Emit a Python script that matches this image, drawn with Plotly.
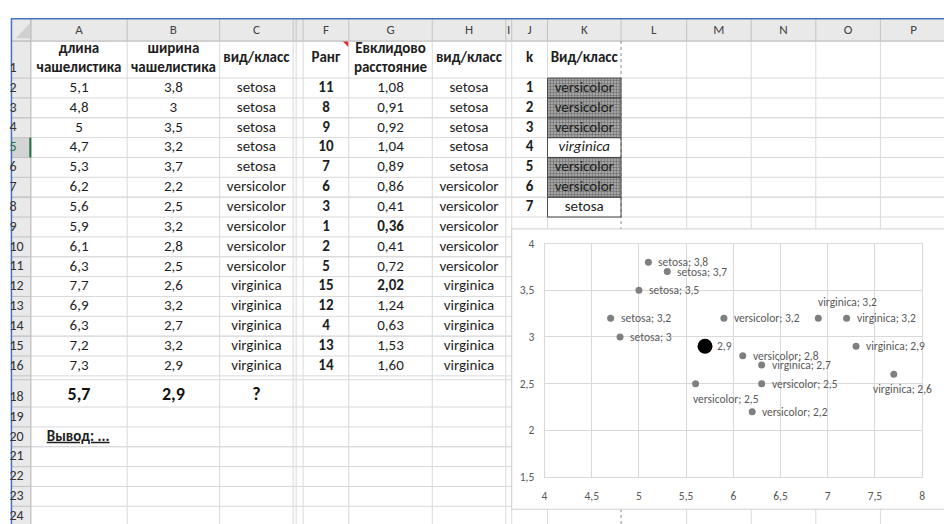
import plotly.graph_objects as go

# ------------------------------------------------------------------ data
sepal_length = [5.1, 4.8, 5.0, 4.7, 5.3, 6.2, 5.6, 5.9, 6.1, 6.3, 7.7, 6.9, 6.3, 7.2, 7.3]
sepal_width = [3.8, 3.0, 3.5, 3.2, 3.7, 2.2, 2.5, 3.2, 2.8, 2.5, 2.6, 3.2, 2.7, 3.2, 2.9]
species = ["setosa", "setosa", "setosa", "setosa", "setosa",
           "versicolor", "versicolor", "versicolor", "versicolor", "versicolor",
           "virginica", "virginica", "virginica", "virginica", "virginica"]
rank = [11, 8, 9, 10, 7, 6, 3, 1, 2, 5, 15, 12, 4, 13, 14]
distance = [1.08, 0.91, 0.92, 1.04, 0.89, 0.86, 0.41, 0.36, 0.41, 0.72, 2.02, 1.24, 0.63, 1.53, 1.60]
k_values = [1, 2, 3, 4, 5, 6, 7]
k_class = ["versicolor", "versicolor", "versicolor", "virginica", "versicolor", "versicolor", "setosa"]
query_length = 5.7
query_width = 2.9
query_class = "?"
header_texts = ["длина<br>чашелистика", "ширина<br>чашелистика", "вид/класс", "Ранг",
                "Евклидово<br>расстояние", "вид/класс", "k", "Вид/класс"]
column_letters = ["A", "B", "C", "F", "G", "H", "I", "J", "K", "L", "M", "N", "O", "P"]
row_labels = list(range(1, 17)) + list(range(18, 25))
conclusion = "Вывод: ..."
x_ticks = [4, 4.5, 5, 5.5, 6, 6.5, 7, 7.5, 8]
y_ticks = [1.5, 2, 2.5, 3, 3.5, 4]


def fmt(v, nd=None):
    s = f"{v:.{nd}f}" if nd is not None else f"{v:g}"
    return s.replace(".", ",")


# ------------------------------------------------------------------ geometry (page pixels)
W, H = 944, 524
FONT = "Carlito, Lato, 'Noto Sans', sans-serif"
CELL = 15
col_bounds = {"A": (28, 125), "B": (125, 218), "C": (218, 292), "D": (292, 295), "E": (295, 302),
              "F": (302, 348), "G": (348, 432), "H": (432, 506), "I": (506, 512), "J": (512, 548),
              "K": (548, 622), "L": (622, 688), "M": (688, 753), "N": (753, 818), "O": (818, 883),
              "P": (883, 950)}
HEAD_TOP, HEAD_BOT = 12, 35
RH = 20.4
row_bounds = {1: (35, 73)}
for r in range(2, 17):
    t = 73 + (r - 2) * RH
    row_bounds[r] = (t, t + RH)
row_bounds[18] = (383, 411)
for r in range(19, 25):
    t = 411 + (r - 19) * RH
    row_bounds[r] = (t, t + RH)

CHART_BOX = (512, 228, 960, 516)
PLOT_X = (545, 925)
PLOT_Y = (243, 483)
GRID = "#d9d9d9"
HDR_LINE = "#c3c3c3"
HDR_BG = "#e9e9e9"
label_side = {11: "above", 10: "below", 6: "below_left"}


def cx(c):
    a, b = col_bounds[c]
    return (a + b) / 2


def cy(r, off=10):
    return row_bounds[r][1] - off


def px(x):
    return x / W


def py(y):
    return 1 - y / H


shapes = []


def line(x0, y0, x1, y1, color, width=1, dash="solid"):
    shapes.append(dict(type="line", xref="paper", yref="paper", layer="below",
                       x0=px(x0), y0=py(y0), x1=px(x1), y1=py(y1),
                       line=dict(color=color, width=width, dash=dash)))


def rect(x0, y0, x1, y1, fill, lc=None, lw=0):
    shapes.append(dict(type="rect", xref="paper", yref="paper", layer="below",
                       x0=px(x0), y0=py(y0), x1=px(x1), y1=py(y1), fillcolor=fill,
                       line=dict(color=lc or fill, width=lw)))


rect(8, HEAD_TOP, W + 10, HEAD_BOT, HDR_BG)
rect(8, HEAD_BOT, 28, H + 10, HDR_BG)
rect(8, row_bounds[5][0], 28, row_bounds[5][1], "#d4d4d4")

edges_y = sorted({b for r in row_bounds for b in row_bounds[r]})
for y in edges_y:
    if y > H:
        continue
    line(28, y, W + 10, y, GRID)
    line(8, y, 28, y, HDR_LINE)
line(8, HEAD_BOT, W + 10, HEAD_BOT, "#bdbdbd")

edges_x = sorted({b for c in col_bounds for b in col_bounds[c]})
for x in edges_x:
    if x >= W:
        continue
    line(x, HEAD_TOP, x, HEAD_BOT, HDR_LINE)
    if x == 622:
        line(x, HEAD_BOT, x, H + 10, "#8a8a8a", 1, "dot")
    else:
        line(x, HEAD_BOT, x, H + 10, GRID)
line(28, HEAD_TOP, 28, H + 10, "#bdbdbd")

shapes.append(dict(type="path", xref="paper", yref="paper", layer="below",
                   path=f"M{px(27)},{py(17)} L{px(27)},{py(32)} L{px(13)},{py(32)} Z",
                   fillcolor="#cfcfcf", line=dict(width=0)))
shapes.append(dict(type="path", xref="paper", yref="paper", layer="below",
                   path=f"M{px(342)},{py(35.5)} L{px(347.5)},{py(35.5)} L{px(347.5)},{py(41)} Z",
                   fillcolor="#e0302a", line=dict(width=0)))
line(27.5, row_bounds[5][0], 27.5, row_bounds[5][1], "#217346", 2)

rect(CHART_BOX[0], CHART_BOX[1], CHART_BOX[2], CHART_BOX[3], "white", "#cfcfcf", 1)

line(8, HEAD_TOP, W + 10, HEAD_TOP, "#4472c4", 1.5)
line(8.5, HEAD_TOP, 8.5, H + 10, "#4472c4", 1.5)

fig = go.Figure()

# ------------------------------------------------------------------ chart
fig.add_trace(go.Scatter(
    x=sepal_length, y=sepal_width, mode="markers",
    marker=dict(color="#7f7f7f", size=7), cliponaxis=False, xaxis="x", yaxis="y"))
fig.add_trace(go.Scatter(
    x=[query_length], y=[query_width], mode="markers",
    marker=dict(color="black", size=15), cliponaxis=False, xaxis="x", yaxis="y"))

LBL_FONT = dict(family=FONT, size=11.5, color="#595959")
annotations = []
for i, (xv, yv, s) in enumerate(zip(sepal_length, sepal_width, species)):
    side = label_side.get(i, "right")
    a = dict(x=xv, y=yv, xref="x", yref="y", text=f"{s}; {fmt(yv)}", showarrow=False,
             font=LBL_FONT)
    if side == "right":
        a.update(xanchor="left", yanchor="middle", xshift=8)
    elif side == "above":
        a.update(xanchor="left", yanchor="bottom", xshift=-2, yshift=7)
    elif side == "below":
        a.update(xanchor="center", yanchor="top", xshift=9, yshift=-6)
    else:
        a.update(xanchor="left", yanchor="top", xshift=-5, yshift=-6)
    annotations.append(a)
annotations.append(dict(x=query_length, y=query_width, xref="x", yref="y",
                        text=fmt(query_width), showarrow=False, font=LBL_FONT,
                        xanchor="left", yanchor="middle", xshift=10))

# ------------------------------------------------------------------ sheet: patterned K cells
xs, ys = [], []
for i, c in enumerate(k_class):
    t, b = row_bounds[i + 2]
    if c == "versicolor":
        xs += [548, 622, 622, 548, 548, None]
        ys += [t, t, b, b, t, None]
fig.add_trace(go.Scatter(x=xs, y=ys, mode="lines", fill="toself", xaxis="x2", yaxis="y2",
                         fillcolor="#a8a8a8",
                         fillpattern=dict(shape=".", fgcolor="#2e2e2e", bgcolor="#b4b4b4",
                                          size=3, solidity=0.5),
                         line=dict(color="#4a4a4a", width=1), hoverinfo="skip"))
bx, by = [], []
for i, c in enumerate(k_class):
    t, b = row_bounds[i + 2]
    if c != "versicolor":
        bx += [548, 622, 622, 548, 548, None]
        by += [t, t, b, b, t, None]
fig.add_trace(go.Scatter(x=bx, y=by, mode="lines", xaxis="x2", yaxis="y2",
                         line=dict(color="#4a4a4a", width=1), hoverinfo="skip"))


# ------------------------------------------------------------------ sheet text
def add_text(x, y, t, size=CELL, color="#1e1e1e", weight="normal", style="normal",
             position="middle center", underline=False):
    fig.add_trace(go.Scatter(
        x=x, y=y, text=t, mode="text", textposition=position, xaxis="x2", yaxis="y2",
        cliponaxis=False, hoverinfo="skip",
        textfont=dict(family=FONT, size=size, color=color, weight=weight, style=style,
                      lineposition="under" if underline else "none")))


add_text([cx(c) for c in column_letters], [24] * len(column_letters), column_letters,
         size=13, color="#444444")
add_text([6.5] * len(row_labels), [cy(r) for r in row_labels],
         [str(r) for r in row_labels],
         size=14, color=["#217346" if r == 5 else "#333333" for r in row_labels],
         position="middle right")
hdr_cols = ["A", "B", "C", "F", "G", "H", "J", "K"]
add_text([cx(c) for c in hdr_cols], [53] * len(hdr_cols), header_texts, weight="bold")

data_rows = list(range(2, 17))
ax, ay, at = [], [], []
for i, r in enumerate(data_rows):
    ax += [cx("A"), cx("B"), cx("C"), cx("H")]
    ay += [cy(r)] * 4
    at += [fmt(sepal_length[i]), fmt(sepal_width[i]), species[i], species[i]]
dmin, dmax = min(distance), max(distance)
for i, r in enumerate(data_rows):
    if distance[i] not in (dmin, dmax):
        ax.append(cx("G"))
        ay.append(cy(r))
        at.append(fmt(distance[i], 2))
add_text(ax, ay, at)
bx_, by_, bt_ = [], [], []
for i, r in enumerate(data_rows):
    bx_.append(cx("F"))
    by_.append(cy(r))
    bt_.append(str(rank[i]))
    if distance[i] in (dmin, dmax):
        bx_.append(cx("G"))
        by_.append(cy(r))
        bt_.append(fmt(distance[i], 2))
for i, kv in enumerate(k_values):
    bx_.append(cx("J"))
    by_.append(cy(i + 2))
    bt_.append(str(kv))
add_text(bx_, by_, bt_, weight="bold")
kx = [cx("K")] * len(k_class)
kyy = [cy(i + 2) for i in range(len(k_class))]
plain_idx = [i for i, c in enumerate(k_class) if c != "virginica"]
ital_idx = [i for i, c in enumerate(k_class) if c == "virginica"]
add_text([kx[i] for i in plain_idx], [kyy[i] for i in plain_idx], [k_class[i] for i in plain_idx])
add_text([kx[i] for i in ital_idx], [kyy[i] for i in ital_idx], [k_class[i] for i in ital_idx],
         style="italic")
add_text([cx("A"), cx("B"), cx("C")], [cy(18, 12)] * 3,
         [fmt(query_length), fmt(query_width), query_class], size=18, weight="bold",
         color="#111111")
add_text([44], [cy(20)], [conclusion], weight="bold", position="middle right", underline=True)

# ------------------------------------------------------------------ layout
fig.update_layout(
    width=W, height=H, autosize=False, margin=dict(l=0, r=0, t=0, b=0),
    paper_bgcolor="white", plot_bgcolor="rgba(0,0,0,0)", showlegend=False,
    separators=", ", shapes=shapes, annotations=annotations, font=dict(family=FONT),
    xaxis=dict(domain=[px(PLOT_X[0]), px(PLOT_X[1])], range=[4, 8], tickvals=x_ticks,
               showgrid=True, gridcolor=GRID, zeroline=False, showline=True, mirror=True,
               linecolor=GRID, ticks="", ticklabelstandoff=8,
               tickfont=dict(family=FONT, size=11.5, color="#595959"), fixedrange=True),
    yaxis=dict(domain=[py(PLOT_Y[1]), py(PLOT_Y[0])], range=[1.5, 4], tickvals=y_ticks,
               showgrid=True, gridcolor=GRID, zeroline=False, showline=True, mirror=True,
               linecolor=GRID, ticks="", ticklabelstandoff=7,
               tickfont=dict(family=FONT, size=11.5, color="#595959"), fixedrange=True),
    xaxis2=dict(domain=[0, 1], range=[0, W], visible=False, anchor="y2", fixedrange=True),
    yaxis2=dict(domain=[0, 1], range=[H, 0], visible=False, anchor="x2", fixedrange=True),
)

# pin the figure to the window corner (no page margin / scrollbars)
PIN = ("document.body.style.margin='0';document.body.style.overflow='hidden';"
       "var gd=document.getElementById('{plot_id}');gd.style.position='fixed';"
       "gd.style.left='0px';gd.style.top='0px';")
fig.write_html("out.html", post_script=PIN, config={"displayModeBar": False})
